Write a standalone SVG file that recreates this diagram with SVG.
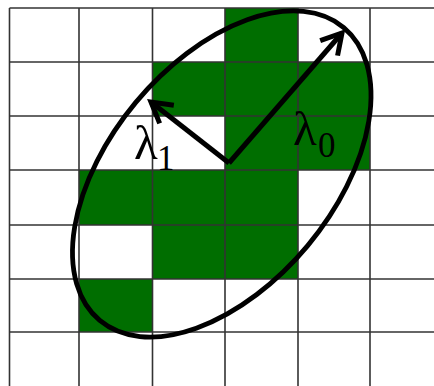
<svg xmlns="http://www.w3.org/2000/svg" width="434" height="386" viewBox="0 0 434 386">
  <style>
    .cell { fill: #006e00; }
    .grid line { stroke: #333; stroke-width: 1.6; }
    .ell { fill: none; stroke: #000; stroke-width: 4.8; }
    .vec { stroke: #000; stroke-width: 5; fill: none; }
    .lam { font-family: "Liberation Serif", "DejaVu Serif", serif; font-size: 49px; fill: #000; }
    .sub { font-size: 35px; }
  </style>
  <defs>
    <marker id="head" markerUnits="userSpaceOnUse" markerWidth="40" markerHeight="40" viewBox="-30 -20 40 40" refX="0" refY="0" orient="auto" overflow="visible">
      <path d="M -20,-11.5 L 0,0 L -20,11.5" fill="none" stroke="#000" stroke-width="5" stroke-linejoin="miter"/>
    </marker>
  </defs>
  <rect width="434" height="386" fill="#fff"/>
  <g id="cells">
    <rect class="cell" x="225" y="8" width="73" height="54"/>
    <rect class="cell" x="152.5" y="62" width="217.5" height="54"/>
    <rect class="cell" x="225" y="116" width="145" height="54"/>
    <rect class="cell" x="79" y="170" width="219" height="55"/>
    <rect class="cell" x="152.5" y="225" width="145.5" height="54"/>
    <rect class="cell" x="79" y="279" width="73.5" height="53"/>
  </g>
  <g id="grid" class="grid">
    <line x1="9.5" y1="8" x2="9.5" y2="386"/>
    <line x1="79" y1="8" x2="79" y2="386"/>
    <line x1="152.5" y1="8" x2="152.5" y2="386"/>
    <line x1="225" y1="8" x2="225" y2="386"/>
    <line x1="298" y1="8" x2="298" y2="386"/>
    <line x1="370" y1="8" x2="370" y2="386"/>
    <line x1="9.5" y1="8" x2="434" y2="8"/>
    <line x1="9.5" y1="62" x2="434" y2="62"/>
    <line x1="9.5" y1="116" x2="434" y2="116"/>
    <line x1="9.5" y1="170" x2="434" y2="170"/>
    <line x1="9.5" y1="225" x2="434" y2="225"/>
    <line x1="9.5" y1="279" x2="434" y2="279"/>
    <line x1="9.5" y1="332" x2="434" y2="332"/>
  </g>
  <g id="ellipse">
    <ellipse class="ell" cx="221.75" cy="174" rx="190.6" ry="111.9" transform="rotate(-50.2 221.75 174)"/>
  </g>
  <g id="connectors">
    <line class="vec" x1="229" y1="163" x2="342" y2="33" marker-end="url(#head)"/>
    <line class="vec" x1="229" y1="163" x2="151" y2="102" marker-end="url(#head)"/>
  </g>
  <g id="labels">
    <text class="lam" x="134" y="159">λ<tspan class="sub" x="157" y="170">1</tspan></text>
    <text class="lam" x="293" y="145">λ<tspan class="sub" x="318" y="157">0</tspan></text>
  </g>
</svg>
